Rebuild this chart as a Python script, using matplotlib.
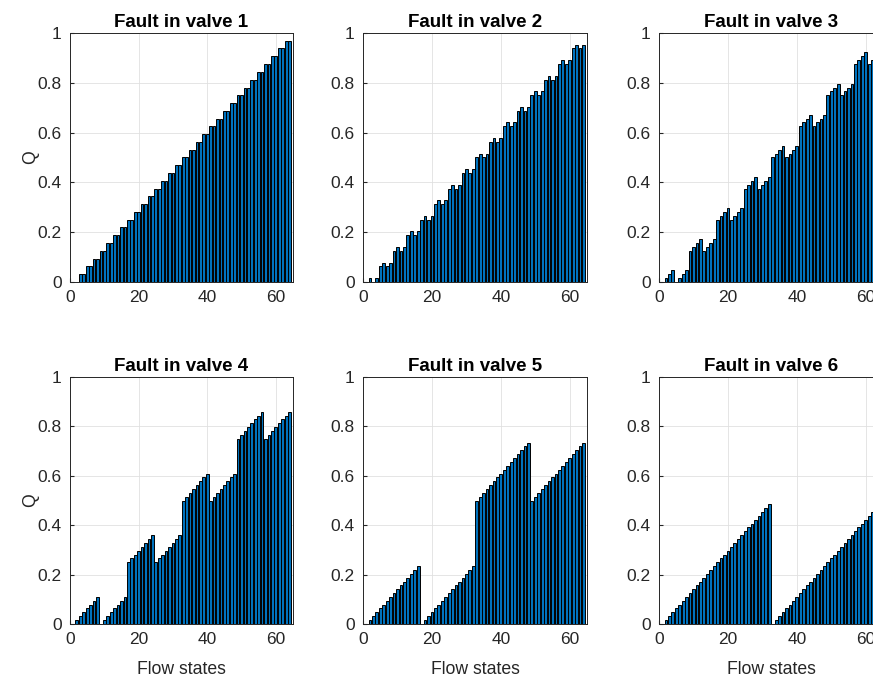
import matplotlib
matplotlib.use("Agg")
import matplotlib.pyplot as plt
import numpy as np

plt.rcParams['font.family'] = ['Liberation Sans', 'DejaVu Sans']

# flow states 1..64
flow_states = list(range(1, 65))

# Q per flow state, one list per faulty valve
q_valve1 = [0, 0, .031, .031, .063, .063, .094, .094, .125, .125, .156, .156, .188, .188, .219, .219,
            .25, .25, .281, .281, .313, .313, .344, .344, .375, .375, .406, .406, .438, .438, .469, .469,
            .5, .5, .531, .531, .563, .563, .594, .594, .625, .625, .656, .656, .688, .688, .719, .719,
            .75, .75, .781, .781, .813, .813, .844, .844, .875, .875, .906, .906, .938, .938, .969, .969]
q_valve2 = [0, .016, 0, .016, .063, .078, .063, .078, .125, .141, .125, .141, .188, .203, .188, .203,
            .25, .266, .25, .266, .313, .328, .313, .328, .375, .391, .375, .391, .438, .453, .438, .453,
            .5, .516, .5, .516, .563, .578, .563, .578, .625, .641, .625, .641, .688, .703, .688, .703,
            .75, .766, .75, .766, .813, .828, .813, .828, .875, .891, .875, .891, .938, .953, .938, .953]
q_valve3 = [0, .016, .031, .047, 0, .016, .031, .047, .125, .141, .156, .172, .125, .141, .156, .172,
            .25, .266, .281, .297, .25, .266, .281, .297, .375, .391, .406, .422, .375, .391, .406, .422,
            .5, .516, .531, .547, .5, .516, .531, .547, .625, .641, .656, .672, .625, .641, .656, .672,
            .75, .766, .781, .797, .75, .766, .781, .797, .875, .891, .906, .922, .875, .891, .906, .922]
q_valve4 = [0, .016, .031, .047, .063, .078, .094, .109, 0, .016, .031, .047, .063, .078, .094, .109,
            .25, .266, .281, .297, .313, .328, .344, .359, .25, .266, .281, .297, .313, .328, .344, .359,
            .5, .516, .531, .547, .563, .578, .594, .609, .5, .516, .531, .547, .563, .578, .594, .609,
            .75, .766, .781, .797, .813, .828, .844, .859, .75, .766, .781, .797, .813, .828, .844, .859]
q_valve5 = [0, .016, .031, .047, .063, .078, .094, .109, .125, .141, .156, .172, .188, .203, .219, .234,
            0, .016, .031, .047, .063, .078, .094, .109, .125, .141, .156, .172, .188, .203, .219, .234,
            .5, .516, .531, .547, .563, .578, .594, .609, .625, .641, .656, .672, .688, .703, .719, .734,
            .5, .516, .531, .547, .563, .578, .594, .609, .625, .641, .656, .672, .688, .703, .719, .734]
q_valve6 = [0, .016, .031, .047, .063, .078, .094, .109, .125, .141, .156, .172, .188, .203, .219, .234,
            .25, .266, .281, .297, .313, .328, .344, .359, .375, .391, .406, .422, .438, .453, .469, .484,
            0, .016, .031, .047, .063, .078, .094, .109, .125, .141, .156, .172, .188, .203, .219, .234,
            .25, .266, .281, .297, .313, .328, .344, .359, .375, .391, .406, .422, .438, .453, .469, .484]

all_q = [q_valve1, q_valve2, q_valve3, q_valve4, q_valve5, q_valve6]
titles = ["Fault in valve 1", "Fault in valve 2", "Fault in valve 3",
          "Fault in valve 4", "Fault in valve 5", "Fault in valve 6"]

W, H = 873, 684
fig = plt.figure(figsize=(W / 100, H / 100), dpi=100)

# axes boxes in pixels: left, top, right, bottom
col_x = [(70, 293), (363, 587), (659, 883)]
row_y = [(33, 282), (377, 624)]

axis_col = "#262626"
for i, q in enumerate(all_q):
    r, c = divmod(i, 3)
    x0, x1 = col_x[c]
    y0, y1 = row_y[r]
    ax = fig.add_axes([x0 / W, 1 - y1 / H, (x1 - x0) / W, (y1 - y0) / H])
    ax.bar(flow_states, q, width=0.8, color="#0072BD", edgecolor="black", linewidth=0.7, zorder=3)
    ax.set_xlim(0, 65)
    ax.set_ylim(0, 1)
    ax.set_xticks([0, 20, 40, 60])
    ax.set_yticks([0, 0.2, 0.4, 0.6, 0.8, 1])
    ax.set_yticklabels(["0", "0.2", "0.4", "0.6", "0.8", "1"])
    ax.grid(True, color="#e0e0e0", linewidth=0.6, zorder=0)
    ax.tick_params(direction="in", length=3, labelsize=12.5, colors=axis_col, pad=6)
    for s in ax.spines.values():
        s.set_color(axis_col)
        s.set_linewidth(0.7)
    ax.set_title(titles[i], fontsize=13.5, fontweight="bold", color="black", pad=4)
    if c == 0:
        ax.set_ylabel("Q", fontsize=12.7, color=axis_col, labelpad=-1)
    if r == 1:
        ax.set_xlabel("Flow states", fontsize=12.7, color=axis_col, labelpad=10)

fig.savefig("out.png", dpi=100)
